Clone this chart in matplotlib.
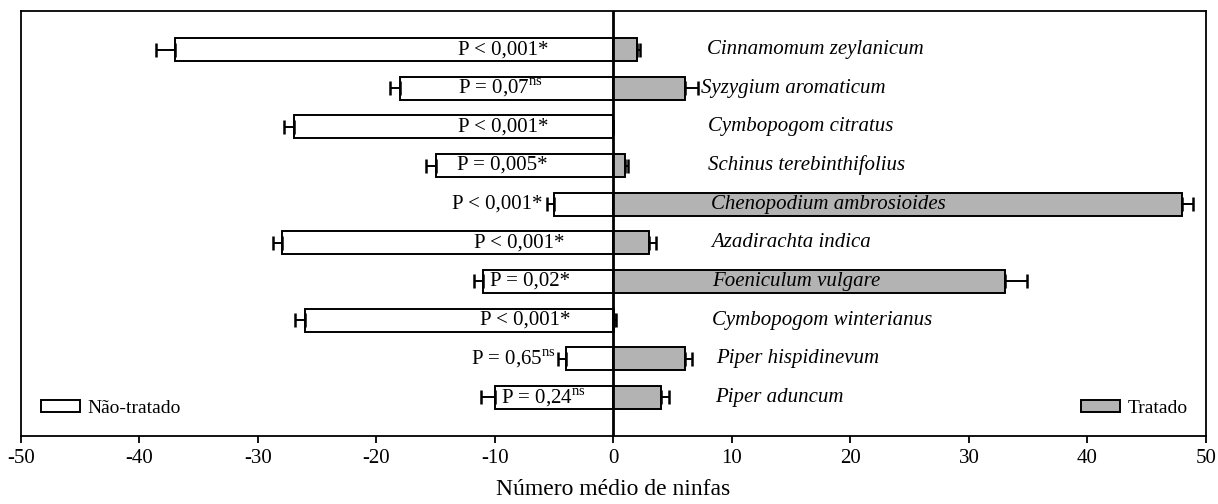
import matplotlib
matplotlib.use('Agg')
import matplotlib.pyplot as plt
from matplotlib.patches import Patch

plt.rcParams['font.family'] = ['Liberation Serif', 'DejaVu Serif']
plt.rcParams['mathtext.fontset'] = 'custom'
plt.rcParams['mathtext.rm'] = 'Liberation Serif'
plt.rcParams['axes.unicode_minus'] = False

# Dados (número médio de ninfas)
species = ['Cinnamomum zeylanicum', 'Syzygium aromaticum', 'Cymbopogom citratus',
           'Schinus terebinthifolius', 'Chenopodium ambrosioides', 'Azadirachta indica',
           'Foeniculum vulgare', 'Cymbopogom winterianus', 'Piper hispidinevum',
           'Piper aduncum']
untreated = [37, 18, 27, 15, 5, 28, 11, 26, 4, 10]
untreated_err = [1.6, 0.9, 0.8, 0.8, 0.6, 0.7, 0.8, 0.9, 0.7, 1.2]
treated = [2, 6, 0, 1, 48, 3, 33, 0.05, 6, 4]
treated_err = [0.2, 1.1, 0, 0.25, 0.9, 0.6, 1.9, 0.15, 0.6, 0.7]
p_labels = ['P < 0,001*', r'P = 0,07$^{\mathrm{ns}}$', 'P < 0,001*', 'P = 0,005*',
            'P < 0,001*', 'P < 0,001*', 'P = 0,02*', 'P < 0,001*',
            r'P = 0,65$^{\mathrm{ns}}$', r'P = 0,24$^{\mathrm{ns}}$']

# posição (eixo x) onde começa cada texto
p_label_x = [-13.1, -13.1, -13.1, -13.2, -13.6, -11.8, -10.4, -11.3, -12.0, -9.5]
species_x = [7.9, 7.4, 8.0, 8.0, 8.2, 8.2, 8.3, 8.3, 8.7, 8.6]

fig = plt.figure(figsize=(12.18, 5.04), dpi=100)
ax = fig.add_axes([0.01724, 0.1349, 0.9729, 0.8433])

y = list(range(len(species)))
neg = [-v for v in untreated]
gray = '#b3b3b3'

ax.barh(y, neg, height=0.6, color='white', edgecolor='black', linewidth=1.4, zorder=2)
ax.barh(y, treated, height=0.6, color=gray, edgecolor='black', linewidth=1.4, zorder=2)
ax.errorbar(neg, y, xerr=[untreated_err, [0] * len(y)], fmt='none', ecolor='black',
            elinewidth=1.4, capsize=5, capthick=1.8, zorder=3)
ax.errorbar(treated, y, xerr=[[0] * len(y), treated_err], fmt='none', ecolor='black',
            elinewidth=1.4, capsize=5, capthick=1.8, zorder=3)
ax.axvline(0, color='black', linewidth=2.0, zorder=4)

for i in y:
    ax.text(p_label_x[i], i, p_labels[i], ha='left', va='center', fontsize=15, zorder=5)
    ax.text(species_x[i], i, species[i], ha='left', va='center', fontsize=15,
            style='italic', zorder=5)

ax.set_xlim(-50, 50)
ax.set_ylim(10, -1)
ax.set_xticks(range(-50, 51, 10))
ax.set_yticks([])
ax.tick_params(axis='x', direction='out', length=5, width=1.3, labelsize=15, pad=4)
for s in ax.spines.values():
    s.set_linewidth(1.3)
ax.set_xlabel('Número médio de ninfas', fontsize=17, labelpad=8)

leg1 = ax.legend(handles=[Patch(facecolor='white', edgecolor='black', linewidth=1.4,
                                label='Não-tratado')],
                 loc='center left', bbox_to_anchor=(0.0169, 0.064), frameon=False,
                 fontsize=14, borderpad=0, borderaxespad=0, handlelength=2.0,
                 handleheight=0.57, handletextpad=0.4)
ax.add_artist(leg1)
ax.legend(handles=[Patch(facecolor=gray, edgecolor='black', linewidth=1.4, label='Tratado')],
          loc='center right', bbox_to_anchor=(0.985, 0.064), frameon=False,
          fontsize=14, borderpad=0, borderaxespad=0, handlelength=2.0,
          handleheight=0.57, handletextpad=0.4)

fig.savefig('out.png', dpi=100)
plt.close(fig)
